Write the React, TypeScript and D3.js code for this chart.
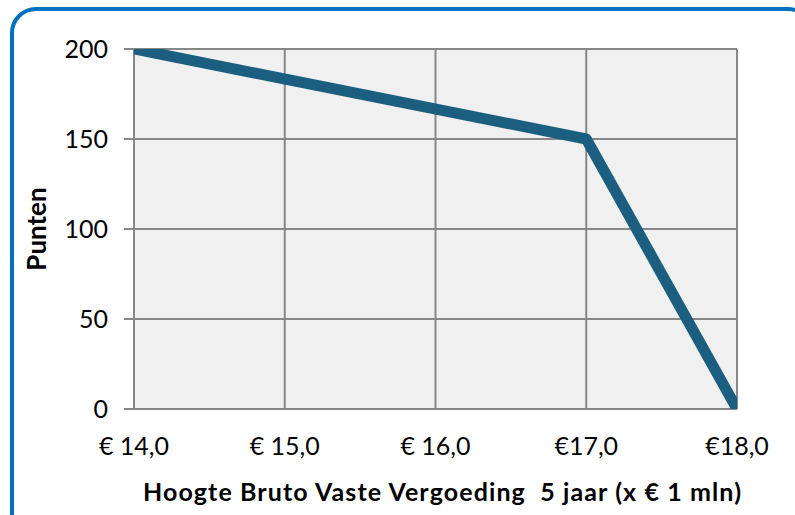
import React from "react";
import * as d3 from "d3";

const xTicks = [14, 15, 16, 17, 18];
const xTickLabels = ["€ 14,0", "€ 15,0", "€ 16,0", "€17,0", "€18,0"];
const yTicks = [0, 50, 100, 150, 200];
const bedrag = [14, 17, 18];
const punten = [200, 150, 0];

const xTitle = "Hoogte Bruto Vaste Vergoeding  5 jaar (x € 1 mln)";
const yTitle = "Punten";

export default function App() {
  const width = 795, height = 515;
  const plot = { left: 134, right: 737, top: 49, bottom: 409 };
  const x = d3.scaleLinear().domain([14, 18]).range([plot.left, plot.right]);
  const y = d3.scaleLinear().domain([0, 200]).range([plot.bottom, plot.top]);
  const pts = bedrag.map((b, i) => [x(b), y(punten[i])] as [number, number]);
  const line = d3.line()(pts) || "";
  const font = "Lato, 'Open Sans', sans-serif";

  return (
    <svg width={width} height={height} style={{ position: "absolute", left: 0, top: 0 }}>
      <rect x={0} y={0} width={width} height={height} fill="#fff" />
      <rect x={12} y={9} width={800} height={530} rx={24} fill="#fff" stroke="#0070c0" strokeWidth={4} />
      <defs>
        <clipPath id="plotclip">
          <rect x={plot.left} y={plot.top} width={plot.right - plot.left} height={plot.bottom - plot.top} />
        </clipPath>
      </defs>
      <rect x={plot.left} y={plot.top} width={plot.right - plot.left} height={plot.bottom - plot.top} fill="#f0f0f0" />
      {yTicks.map(t => (
        <line key={"gy" + t} x1={plot.left - 10} x2={plot.right} y1={y(t)} y2={y(t)} stroke="#878787" strokeWidth={2} />
      ))}
      {xTicks.map(t => (
        <line key={"gx" + t} x1={x(t)} x2={x(t)} y1={plot.top} y2={plot.bottom} stroke="#878787" strokeWidth={2} />
      ))}
      <path d={line} fill="none" stroke="#1b5e80" strokeWidth={11} strokeLinejoin="round" clipPath="url(#plotclip)" />
      {yTicks.map(t => (
        <text key={"ly" + t} x={108} y={y(t)} dy="0.35em" textAnchor="end" fontFamily={font} fontSize={25} fill="#000">{t}</text>
      ))}
      {xTicks.map((t, i) => (
        <text key={"lx" + t} x={x(t)} y={446} dy="0.35em" textAnchor="middle" fontFamily={font} fontSize={25} fill="#000">{xTickLabels[i]}</text>
      ))}
      <text x={442} y={492} dy="0.35em" textAnchor="middle" fontFamily={font} fontSize={25} fontWeight="bold" fill="#000"
        style={{ whiteSpace: "pre" }} textLength={598} lengthAdjust="spacing">{xTitle}</text>
      <text transform={`translate(37,229) rotate(-90)`} dy="0.35em" textAnchor="middle" fontFamily={font} fontSize={26} fontWeight="bold" fill="#000">{yTitle}</text>
    </svg>
  );
}
